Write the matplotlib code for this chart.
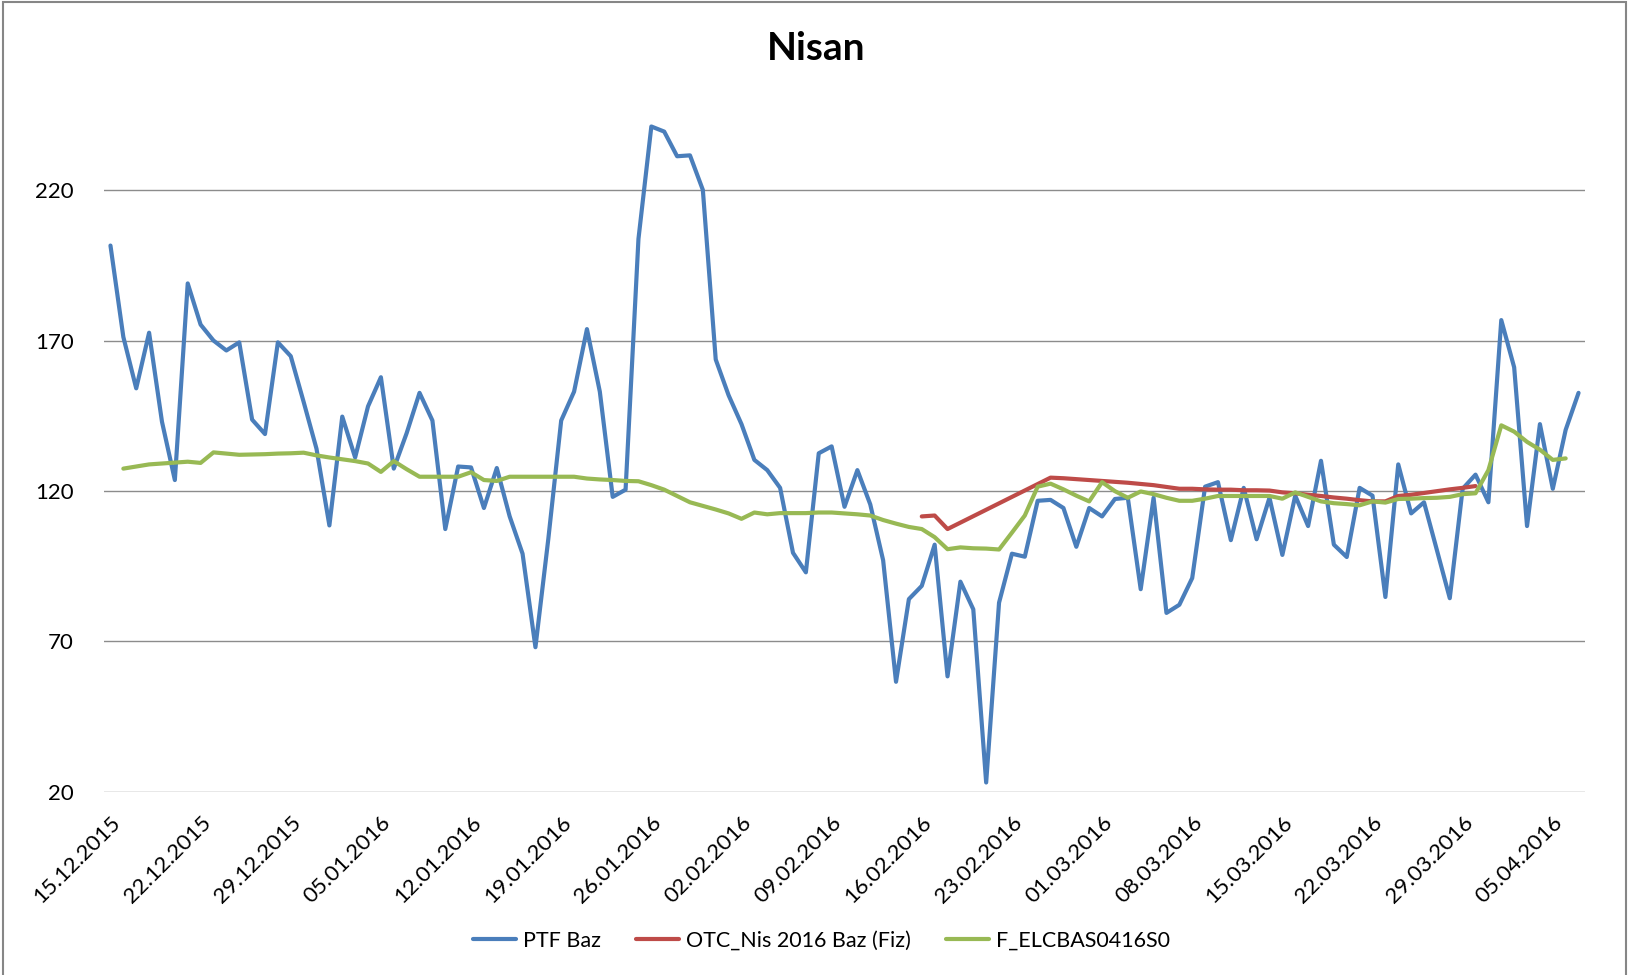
import matplotlib
matplotlib.use("Agg")
import matplotlib.pyplot as plt
import matplotlib.dates as mdates
from matplotlib.patches import Rectangle
import numpy as np
import pandas as pd

plt.rcParams['font.family'] = ['Lato', 'DejaVu Sans']

start_date = "2015-12-15"
n_days = 115

ptf_baz = [201.6, 171.2, 154.1, 172.6, 143.0, 123.6, 189.0, 175.3, 170.0, 166.7,
           169.4, 143.7, 138.9, 169.4, 164.8, 149.6, 134.0, 108.5, 144.7, 131.1,
           148.1, 157.8, 127.4, 139.2, 152.6, 143.4, 107.3, 128.1, 127.8, 114.3,
           127.6, 111.5, 99.1, 68.0, 104.0, 143.4, 153.0, 173.8, 153.0, 118.0,
           120.4, 203.8, 241.2, 239.5, 231.3, 231.6, 220.1, 163.7, 151.8, 142.2,
           130.3, 126.9, 121.0, 99.4, 92.9, 132.5, 134.8, 114.7, 126.9, 115.5,
           96.9, 56.5, 84.0, 88.4, 102.1, 58.3, 89.8, 80.6, 23.0, 82.8,
           99.1, 98.1, 116.7, 117.0, 114.3, 101.4, 114.3, 111.5, 117.3, 117.7,
           87.3, 117.7, 79.4, 82.1, 91.0, 121.4, 122.9, 103.6, 121.0, 103.9,
           117.7, 98.7, 118.4, 108.3, 130.0, 102.1, 98.0, 121.0, 118.4, 84.7,
           128.8, 112.5, 116.2, 100.3, 84.3, 120.7, 125.4, 116.2, 176.8, 161.1,
           108.3, 142.2, 120.7, 140.3, 152.6]

N = None
otc_nis = ([N] * 63 +
           [111.5, 111.8, 107.3] +
           [N] * 7 +
           [124.4, 124.2, 123.9, 123.6, 123.3, 123.0, 122.7, 122.3, 121.9, 121.3,
            120.7, 120.7, 120.5, 120.4, 120.4, 120.2, 120.2, 120.1, 119.5, 119.2,
            118.7, 118.3, 117.8, 117.4, 116.9, 116.5, 116.5, 118.3, 118.7, 119.3,
            119.9, 120.5, 121.0, 121.6] +
           [N] * 8)

f_elcbas = ([N] +
            [127.4, 128.1, 128.8, 129.1, 129.4, 129.7, 129.3, 132.8, 132.4, 132.0,
             132.1, 132.2, 132.4, 132.5, 132.7, 131.8, 131.1, 130.5, 129.9, 129.1,
             126.3, 129.9, 127.2, 124.7, 124.7, 124.7, 124.7, 126.2, 123.6, 123.3,
             124.7, 124.7, 124.7, 124.7, 124.7, 124.7, 124.1, 123.8, 123.6, 123.3,
             123.2, 121.9, 120.4, 118.3, 116.2, 115.0, 113.8, 112.5, 110.7, 112.8,
             112.2, 112.6, 112.6, 112.6, 112.8, 112.8, 112.5, 112.2, 111.8, 110.3,
             109.1, 108.0, 107.3, 104.6, 100.6, 101.2, 100.9, 100.8, 100.5, 106.1,
             111.8, 121.4, 122.4, 120.5, 118.4, 116.5, 122.9, 119.9, 117.7, 119.8,
             118.9, 117.7, 116.7, 116.7, 117.4, 118.3, 118.3, 118.3, 118.3, 118.3,
             117.4, 119.5, 118.0, 116.5, 115.9, 115.6, 115.2, 116.5, 116.1, 117.3,
             117.4, 117.6, 117.7, 118.0, 118.9, 119.2, 126.9, 141.8, 139.7, 136.3,
             133.7, 130.3, 130.8] +
            [N])

series_names = ["PTF Baz", "OTC_Nis 2016 Baz (Fiz)", "F_ELCBAS0416S0"]
series_colors = ["#4A7EBB", "#BE4B48", "#98B954"]
y_ticks = [20, 70, 120, 170, 220]
title = "Nisan"

dates = pd.date_range(start_date, periods=n_days, freq="D")

fig = plt.figure(figsize=(16.33, 9.75), dpi=100)
ax = fig.add_axes([0.0637, 0.1882, 0.9069, 0.7092])

for vals, name, col in zip([ptf_baz, otc_nis, f_elcbas], series_names, series_colors):
    s = pd.Series([np.nan if v is None else v for v in vals], index=dates, dtype=float).dropna()
    ax.plot(s.index, s.values, color=col, lw=3.0, label=name,
            solid_joinstyle='round', solid_capstyle='round')

ax.set_ylim(20, 250)
ax.set_yticks(y_ticks)
ax.set_xlim(dates[0] - pd.Timedelta(hours=12), dates[-1] + pd.Timedelta(hours=12))
ax.set_xticks(dates[::7])
ax.xaxis.set_major_formatter(mdates.DateFormatter('%d.%m.%Y'))
ax.grid(axis='y', color='#8C8C8C', lw=1.0)
ax.set_axisbelow(True)
for sp in ax.spines.values():
    sp.set_visible(False)
ax.tick_params(axis='both', length=0)
ax.tick_params(axis='y', labelsize=16, pad=22)
ax.tick_params(axis='x', labelsize=16, pad=15)
for lab in ax.get_xticklabels():
    lab.set_rotation(45)
    lab.set_ha('right')
    lab.set_rotation_mode('anchor')

fig.text(0.5, 0.95, title, ha='center', va='center', fontsize=28, fontweight='bold')

fig.legend(loc='center', bbox_to_anchor=(0.503, 0.035), ncol=3, frameon=False,
           fontsize=15.5, handlelength=2.0, handletextpad=0.35, columnspacing=1.6)

fig.add_artist(Rectangle((0.002, -0.01), 0.994, 1.008, transform=fig.transFigure,
                         fill=False, ec='#868686', lw=1.5))

fig.savefig("out.png", dpi=100)
